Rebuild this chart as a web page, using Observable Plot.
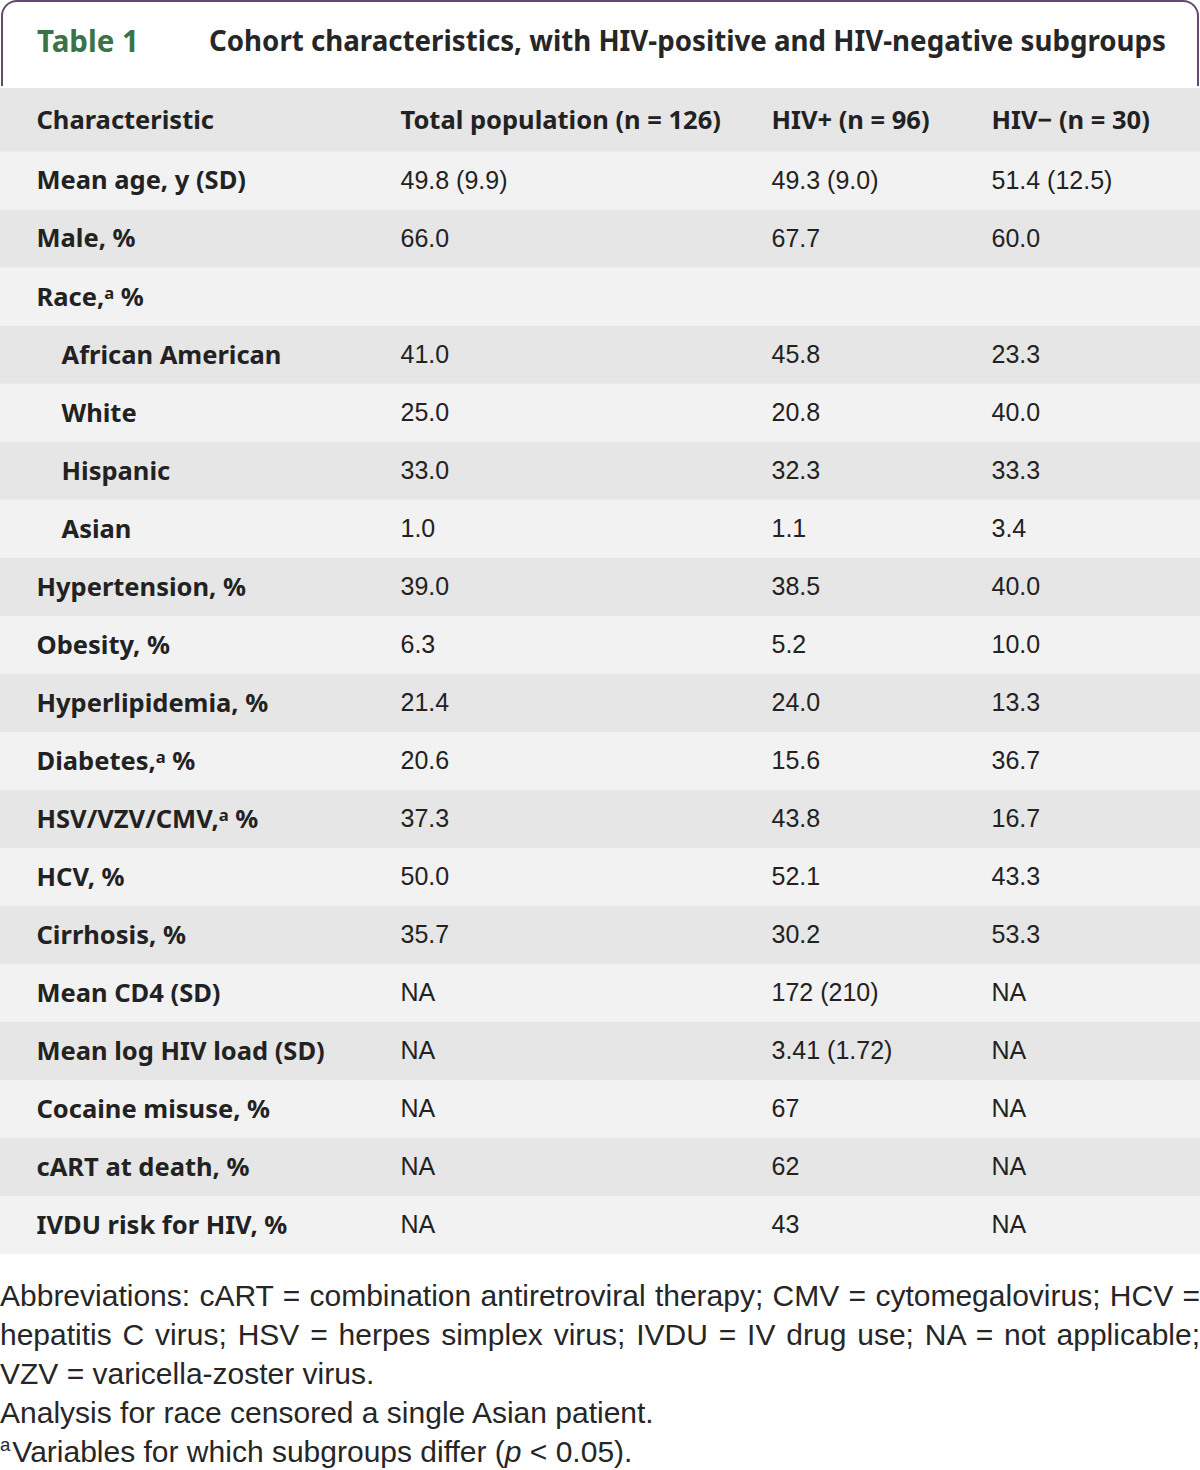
<!DOCTYPE html>
<html>
<head>
<meta charset="utf-8">
<script src="https://cdn.jsdelivr.net/npm/d3@7"></script>
<script src="https://cdn.jsdelivr.net/npm/@observablehq/plot@0.6"></script>
<style>
  html, body { margin: 0; padding: 0; background: #fff; }
  #page { width: 1200px; position: relative; }
  #titlebox {
    box-sizing: border-box; height: 86px; margin: 0 1px 0 1px;
    border: 2px solid #5f4b6e; border-bottom: none; border-radius: 16px 16px 0 0;
    position: relative; font-family: "Noto Sans", sans-serif; font-weight: 700;
  }
  #tlabel { position: absolute; left: 34px; top: 18px; font-size: 29.5px; color: #3b7248; }
  #ttext { position: absolute; left: 206px; top: 19px; font-size: 27.7px; color: #262626; }
  #chart { margin-top: 2px; }
  #chart svg { display: block; }
  #notes { margin-top: 22px; font-family: "Liberation Sans", Arial, sans-serif; font-size: 30px; line-height: 39px; color: #262626; width: 1200px; }
  .j { text-align: justify; text-align-last: justify; white-space: nowrap; }
  sup { font-size: 0.62em; vertical-align: 0; position: relative; top: -0.6em; margin-right: 2px; }
</style>
</head>
<body>
<div id="page">
  <div id="titlebox"><span id="tlabel">Table 1</span><span id="ttext">Cohort characteristics, with HIV-positive and HIV-negative subgroups</span></div>
  <div id="chart"></div>
  <div id="notes">
    <div class="j">Abbreviations: cART = combination antiretroviral therapy; CMV = cytomegalovirus; HCV =</div>
    <div class="j">hepatitis C virus; HSV = herpes simplex virus; IVDU = IV drug use; NA = not applicable;</div>
    <div>VZV = varicella-zoster virus.</div>
    <div>Analysis for race censored a single Asian patient.</div>
    <div><sup>a</sup>Variables for which subgroups differ (<i>p</i> &lt; 0.05).</div>
  </div>
</div>
<script>
// ---- data ----
const headers = ["Characteristic", "Total population (n = 126)", "HIV+ (n = 96)", "HIV\u2212 (n = 30)"];
const characteristics = [
  "Mean age, y (SD)", "Male, %", "Race,\u1d43 %", "African American", "White", "Hispanic", "Asian",
  "Hypertension, %", "Obesity, %", "Hyperlipidemia, %", "Diabetes,\u1d43 %", "HSV/VZV/CMV,\u1d43 %",
  "HCV, %", "Cirrhosis, %", "Mean CD4 (SD)", "Mean log HIV load (SD)", "Cocaine misuse, %",
  "cART at death, %", "IVDU risk for HIV, %"
];
const raceSubgroups = ["African American", "White", "Hispanic", "Asian"];
const totalPopulation = [
  "49.8 (9.9)", "66.0", "", "41.0", "25.0", "33.0", "1.0", "39.0", "6.3", "21.4", "20.6", "37.3",
  "50.0", "35.7", "NA", "NA", "NA", "NA", "NA"
];
const hivPositive = [
  "49.3 (9.0)", "67.7", "", "45.8", "20.8", "32.3", "1.1", "38.5", "5.2", "24.0", "15.6", "43.8",
  "52.1", "30.2", "172 (210)", "3.41 (1.72)", "67", "62", "43"
];
const hivNegative = [
  "51.4 (12.5)", "60.0", "", "23.3", "40.0", "33.3", "3.4", "40.0", "10.0", "13.3", "36.7", "16.7",
  "43.3", "53.3", "NA", "NA", "NA", "NA", "NA"
];

// ---- layout ----
const W = 1200, H = 1166;
const colX = [36, 400, 771, 991];
const indentX = 61;
const headerUnits = 1.1;
const darkFill = "#e6e6e6", lightFill = "#f2f2f2", ink = "#222222";
const labelFont = "'Noto Sans', sans-serif";
const valueFont = "'Liberation Sans', Arial, sans-serif";

const idx = d3.range(characteristics.length);
const cols = [totalPopulation, hivPositive, hivNegative];
const cells = [];
cols.forEach((col, c) => idx.forEach(i => cells.push({i, c: c + 1, text: col[i]})));
const headerCells = headers.map((h, c) => ({c, text: h}));

const chart = Plot.plot({
  width: W, height: H, margin: 0,
  style: {fontFamily: labelFont, background: "transparent"},
  x: {type: "linear", domain: [0, W], range: [0, W], axis: null},
  y: {type: "linear", domain: [-headerUnits, characteristics.length], range: [0, H], axis: null},
  marks: [
    Plot.rect([0], {x1: 0, x2: W, y1: -headerUnits, y2: 0, fill: darkFill}),
    Plot.rect(idx, {x1: 0, x2: W, y1: i => i, y2: i => i + 1, fill: i => (i % 2 === 0 ? lightFill : darkFill)}),
    Plot.text(headerCells, {x: d => colX[d.c], y: -headerUnits / 2, text: "text", textAnchor: "start",
      fontSize: 25.5, fontWeight: 700, fill: ink}),
    Plot.text(idx, {x: i => raceSubgroups.includes(characteristics[i]) ? indentX : colX[0], y: i => i + 0.5,
      text: i => characteristics[i], textAnchor: "start", fontSize: 25.5, fontWeight: 700, fill: ink}),
    Plot.text(cells, {x: d => colX[d.c], y: d => d.i + 0.5, text: "text", textAnchor: "start",
      fontFamily: valueFont, fontSize: 25, fill: ink})
  ]
});
document.getElementById("chart").appendChild(chart);
</script>
</body>
</html>
